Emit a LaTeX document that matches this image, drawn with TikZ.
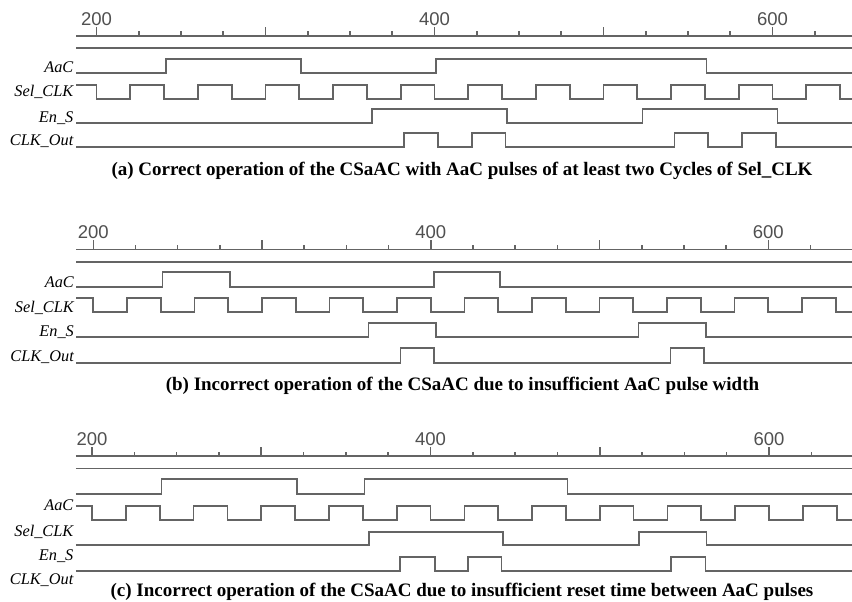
\documentclass[tikz,border=0pt]{standalone}
\usepackage{fontspec}
\setmainfont{Liberation Serif}
\newfontfamily\axfont{Liberation Sans}
\definecolor{sigc}{RGB}{100,100,100}
\definecolor{axc}{RGB}{80,80,80}
\begin{document}
\begin{tikzpicture}[x=1pt,y=-1pt,
  sigline/.style={draw=sigc,line width=1.7pt,line join=miter},
  axline/.style={draw=sigc,line width=1.6pt},
  siglabel/.style={anchor=base east,inner sep=0pt,font=\fontsize{16.3}{17}\selectfont\itshape},
  axlabel/.style={anchor=base,inner sep=0pt,text=axc,font=\axfont\fontsize{18.5}{19}\selectfont},
  captext/.style={anchor=base,inner sep=0pt,font=\fontsize{19}{20}\selectfont\bfseries}]
\useasboundingbox[fill=white] (0,0) rectangle (852,602);

% ================= Panel (a) =================
\begin{scope}[x=1.69pt,xshift=-241.5pt]
  \def\ts{187.9}\def\te{648}
  \draw[axline] (\ts,36) -- (\te,36);
  \draw[axline] (\ts,48.3) -- (\te,48.3);
  \foreach \t in {200,300,400,500,600} \draw[axline] (\t,36) -- (\t,27);
  \foreach \t in {225,250,275,325,350,375,425,450,475,525,550,575,625} \draw[axline] (\t,36) -- (\t,31.5);
  \node[axlabel] (a200) at (200,26) {200};
  \node[axlabel] (a400) at (400,26) {400};
  \node[axlabel] (a600) at (600,26) {600};
  % AaC
  \draw[sigline] (\ts,72.7) -| (241,59.3) -| (321,72.7) -| (401,59.3) -| (561,72.7) -- (\te,72.7);
  % Sel_CLK
  \draw[sigline] (\ts,85) \foreach \k in {200,240,...,600} { -- (\k,85) -- (\k,99) -- ({\k+20},99) -- ({\k+20},85) } -- (640,85) -- (640,99) -- (\te,99);
  % En_S
  \draw[sigline] (\ts,122.7) -| (363,109.3) -| (443,122.7) -| (523,109.3) -| (603,122.7) -- (\te,122.7);
  % CLK_Out
  \draw[sigline] (\ts,146.7) -| (382,133.3) -| (402,146.7) -| (422,133.3) -| (442,146.7) -| (542,133.3) -| (562,146.7) -| (582,133.3) -| (602,146.7) -- (\te,146.7);
\end{scope}
\node[siglabel] (aAaC) at (73.5,72.5) {AaC};
\node[siglabel] (aSel) at (73.5,96.7) {Sel\_CLK};
\node[siglabel] (aEn) at (73.5,122.5) {En\_S};
\node[siglabel] (aOut) at (73.5,145.5) {CLK\_Out};
\node[captext] (capa) at (462,175.5) {(a) Correct operation of the CSaAC with AaC pulses of at least two Cycles of Sel\_CLK};

% ================= Panel (b) =================
\begin{scope}[x=1.6875pt,xshift=-244.2pt]
  \def\ts{189.8}\def\te{650}
  \draw[axline] (\ts,249.3) -- (\te,249.3);
  \draw[axline] (\ts,261.7) -- (\te,261.7);
  \foreach \t in {200,300,400,500,600} \draw[axline] (\t,249.3) -- (\t,240.3);
  \foreach \t in {225,250,275,325,350,375,425,450,475,525,550,575,625} \draw[axline] (\t,249.3) -- (\t,244.8);
  \node[axlabel] (b200) at (200,238.5) {200};
  \node[axlabel] (b400) at (400,238.5) {400};
  \node[axlabel] (b600) at (600,238.5) {600};
  % AaC
  \draw[sigline] (\ts,286.7) -| (241,272.3) -| (281,286.7) -| (402,272.3) -| (441,286.7) -- (\te,286.7);
  % Sel_CLK
  \draw[sigline] (\ts,297.7) \foreach \k in {200,240,...,600} { -- (\k,297.7) -- (\k,312.3) -- ({\k+20},312.3) -- ({\k+20},297.7) } -- (640,297.7) -- (640,312.3) -- (\te,312.3);
  % En_S
  \draw[sigline] (\ts,336.7) -| (363,323.3) -| (403,336.7) -| (523,323.3) -| (563,336.7) -- (\te,336.7);
  % CLK_Out
  \draw[sigline] (\ts,363.3) -| (382,348.3) -| (402,363.3) -| (542,348.3) -| (562,363.3) -- (\te,363.3);
\end{scope}
\node[siglabel] (bAaC) at (74,287) {AaC};
\node[siglabel] (bSel) at (74,312.5) {Sel\_CLK};
\node[siglabel] (bEn) at (74,336.5) {En\_S};
\node[siglabel] (bOut) at (74,361.5) {CLK\_Out};
\node[captext] (capb) at (462.5,390) {(b) Incorrect operation of the CSaAC due to insufficient AaC pulse width};

% ================= Panel (c) =================
\begin{scope}[x=1.6925pt,xshift=-246.5pt]
  \def\ts{190.5}\def\te{650}
  \draw[axline] (\ts,456) -- (\te,456);
  \draw[axline] (\ts,468.3) -- (\te,468.3);
  \foreach \t in {200,300,400,500,600} \draw[axline] (\t,456) -- (\t,447);
  \foreach \t in {225,250,275,325,350,375,425,450,475,525,550,575,625} \draw[axline] (\t,456) -- (\t,451.5);
  \node[axlabel] (c200) at (200,445) {200};
  \node[axlabel] (c400) at (400,445) {400};
  \node[axlabel] (c600) at (600,445) {600};
  % AaC
  \draw[sigline] (\ts,494) -| (241,479.3) -| (321,494) -| (361,479.3) -| (481,494) -- (\te,494);
  % Sel_CLK
  \draw[sigline] (\ts,505.7) \foreach \k in {200,240,...,600} { -- (\k,505.7) -- (\k,520) -- ({\k+20},520) -- ({\k+20},505.7) } -- (640,505.7) -- (640,520) -- (\te,520);
  % En_S
  \draw[sigline] (\ts,545) -| (363.5,531.7) -| (443,545) -| (523,531.7) -| (563,545) -- (\te,545);
  % CLK_Out
  \draw[sigline] (\ts,571) -| (382,556.7) -| (402.5,571) -| (422,556.7) -| (442,571) -| (542,556.7) -| (562.5,571) -- (\te,571);
\end{scope}
\node[siglabel] (cAaC) at (73.5,510) {AaC};
\node[siglabel] (cSel) at (73.5,536) {Sel\_CLK};
\node[siglabel] (cEn) at (73.5,560) {En\_S};
\node[siglabel] (cOut) at (73.5,584) {CLK\_Out};
\node[captext] (capc) at (462,596.5) {(c) Incorrect operation of the CSaAC due to insufficient reset time between AaC pulses};
\end{tikzpicture}
\end{document}
